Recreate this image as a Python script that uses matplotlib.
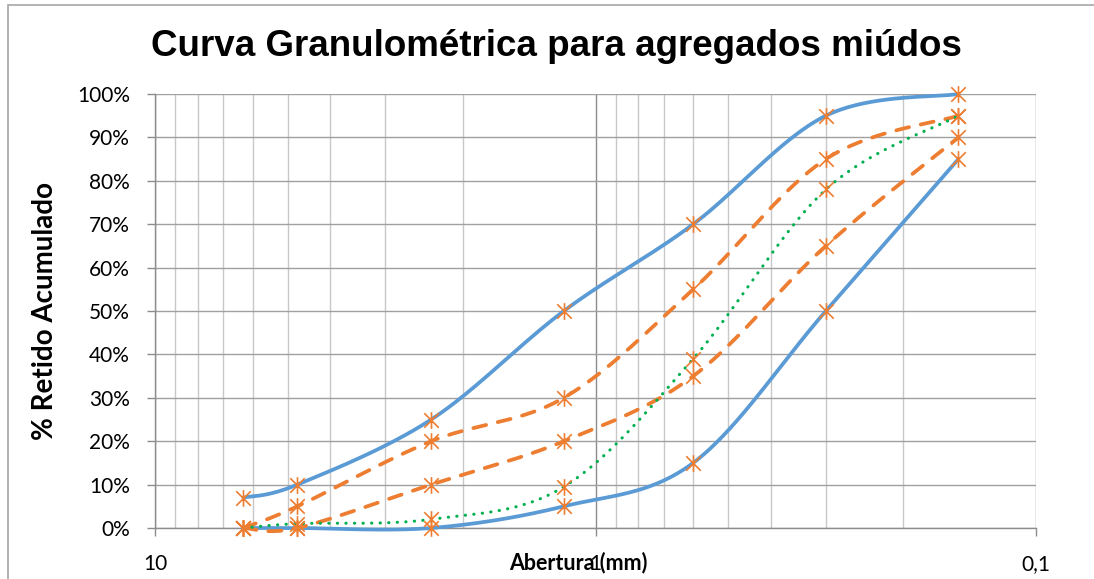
import numpy as np
import matplotlib
matplotlib.use("Agg")
import matplotlib.pyplot as plt
from matplotlib.path import Path
from matplotlib.patches import Rectangle
from matplotlib.ticker import FixedLocator, LogLocator, NullFormatter, FuncFormatter

# sieve openings (mm) and cumulative retained (%)
aberturas = [6.3, 4.75, 2.36, 1.18, 0.6, 0.3, 0.15]
lim_inf_utilizavel = [7, 10, 25, 50, 70, 95, 100]
lim_sup_utilizavel = [0, 0, 0, 5, 15, 50, 85]
zona_otima_sup = [0, 5, 20, 30, 55, 85, 95]
zona_otima_inf = [0, 0, 10, 20, 35, 65, 90]
amostra = [0, 1, 2, 9.5, 39, 78, 95]

x_ticks = [10, 1, 0.1]
x_tick_labels = ["10", "1", "0,1"]
y_ticks = list(range(0, 101, 10))

BLUE = "#5B9BD5"
ORANGE = "#ED7D31"
GREEN = "#00B050"
TICK_FONT = "Lato"


def smooth(x, y, n=40):
    # Excel-style smoothed line: cubic Bezier segments, tension 1/6, in log-x space
    pts = np.column_stack([np.log10(x), np.asarray(y, dtype=float)])
    p = np.vstack([pts[0], pts, pts[-1]])
    t = np.linspace(0, 1, n)[:, None]
    segs = []
    for i in range(1, len(p) - 2):
        p0, p1, p2, p3 = p[i - 1], p[i], p[i + 1], p[i + 2]
        c1 = p1 + (p2 - p0) / 6
        c2 = p2 - (p3 - p1) / 6
        segs.append((1 - t) ** 3 * p1 + 3 * (1 - t) ** 2 * t * c1
                    + 3 * (1 - t) * t ** 2 * c2 + t ** 3 * p2)
    out = np.vstack(segs)
    return 10 ** out[:, 0], out[:, 1]


# asterisk marker: X plus vertical bar
star = Path([(-1, -1), (1, 1), (-1, 1), (1, -1), (0, -1.15), (0, 1.15)],
            [Path.MOVETO, Path.LINETO, Path.MOVETO, Path.LINETO, Path.MOVETO, Path.LINETO])

W, H = 1094, 579
fig = plt.figure(figsize=(W / 100, H / 100), dpi=100)
fig.patch.set_facecolor("white")
ax = fig.add_axes([155 / W, (H - 528) / H, (1036 - 155) / W, (528 - 94) / H])

dash = (0, (3.5, 3.2))
series = [
    (lim_inf_utilizavel, BLUE, "-"),
    (lim_sup_utilizavel, BLUE, "-"),
    (zona_otima_sup, ORANGE, dash),
    (zona_otima_inf, ORANGE, dash),
]
for vals, col, ls in series:
    sx, sy = smooth(aberturas, vals)
    ax.plot(sx, sy, color=col, linestyle=ls, linewidth=2.7, zorder=3,
            solid_capstyle="round", dash_capstyle="round", clip_on=False)

sx, sy = smooth(aberturas, amostra)
ax.plot(sx, sy, color=GREEN, linestyle=(0, (0.1, 2.7)), linewidth=2.2,
        dash_capstyle="round", zorder=3, clip_on=False)

for vals in [lim_inf_utilizavel, lim_sup_utilizavel, zona_otima_sup, zona_otima_inf, amostra]:
    ax.plot(aberturas, vals, linestyle="none", marker=star, markersize=12,
            markeredgewidth=1.2, color=ORANGE, zorder=4, clip_on=False)

ax.set_xscale("log")
ax.set_xlim(10, 0.1)
ax.set_ylim(0, 100)

ax.xaxis.set_major_locator(FixedLocator(x_ticks))
ax.set_xticklabels(x_tick_labels)
ax.xaxis.set_minor_locator(LogLocator(base=10, subs=range(2, 10)))
ax.xaxis.set_minor_formatter(NullFormatter())
ax.set_yticks(y_ticks)
ax.yaxis.set_major_formatter(FuncFormatter(lambda v, p: f"{v:.0f}%"))

ax.grid(which="major", axis="y", color="#A0A0A0", linewidth=1.0, zorder=0)
ax.grid(which="major", axis="x", color="#8C8C8C", linewidth=1.0, zorder=0)
ax.grid(which="minor", axis="x", color="#C8C8C8", linewidth=1.0, zorder=0)
ax.set_axisbelow(True)

for side in ["top", "right"]:
    ax.spines[side].set_visible(False)
for side in ["left", "bottom"]:
    ax.spines[side].set_color("#8C8C8C")
    ax.spines[side].set_linewidth(1.0)

ax.tick_params(which="major", direction="out", length=6, width=1.0, color="#8C8C8C",
               labelsize=15, labelcolor="black")
ax.tick_params(which="minor", length=0)
ax.tick_params(axis="y", pad=12)
ax.tick_params(axis="x", pad=13)
for lab in ax.get_xticklabels() + ax.get_yticklabels():
    lab.set_fontfamily(TICK_FONT)

fig.text(556 / W, 1 - 47 / H, "Curva Granulométrica para agregados miúdos",
         ha="center", va="center", fontsize=26.5, fontweight="bold",
         family="Liberation Sans")
fig.text(45 / W, 1 - 311 / H, "% Retido Acumulado", rotation=90,
         ha="center", va="center", fontsize=20, fontweight="bold", family=TICK_FONT)
fig.text(578 / W, 1 - 563 / H, "Abertura (mm)", ha="center", va="center",
         fontsize=15.5, fontweight="bold", family=TICK_FONT)

fig.add_artist(Rectangle((8 / W, -0.1), 1.1, 1.1 - 5 / H, transform=fig.transFigure,
                         fill=False, edgecolor="#A6A6A6", linewidth=1.2, clip_on=False))

fig.savefig("out.png", dpi=100)
